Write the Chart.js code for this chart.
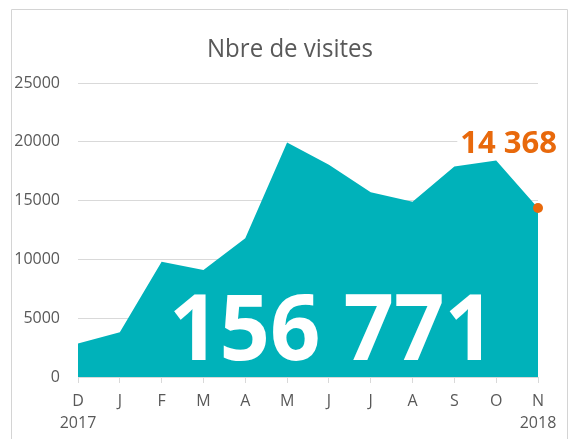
<!DOCTYPE html>
<html>
<head>
<meta charset="utf-8">
<script src="https://cdn.jsdelivr.net/npm/chart.js@4/dist/chart.umd.min.js"></script>
<style>
  html, body { margin: 0; padding: 0; background: #fff; }
  #wrap { position: relative; width: 573px; height: 439px; }
</style>
</head>
<body>
<div id="wrap"><canvas id="chart" width="573" height="439"></canvas></div>
<script>
const months = [['D', '2017'], 'J', 'F', 'M', 'A', 'M', 'J', 'J', 'A', 'S', 'O', ['N', '2018']];
const visits = [2850, 3800, 9800, 9100, 11800, 19950, 18050, 15700, 14900, 17900, 18400, 14368];
const yMax = 25000;
const yStep = 5000;
const chartTitle = 'Nbre de visites';
const totalLabel = '156 771';
const lastLabel = '14 368';

const teal = '#00B2BA';
const orange = '#E8690C';
const grey = '#595959';
const lineGrey = '#d9d9d9';
const font = '"Open Sans", "DejaVu Sans", sans-serif';

// border, title and the two big numbers
const overlay = {
    id: 'overlay',
    beforeDraw(chart) {
        const ctx = chart.ctx;
        ctx.save();
        ctx.strokeStyle = '#d4d4d4';
        ctx.lineWidth = 1;
        ctx.beginPath();
        ctx.moveTo(11.5, 440);
        ctx.lineTo(11.5, 9.5);
        ctx.lineTo(567.5, 9.5);
        ctx.lineTo(567.5, 440);
        ctx.stroke();
        ctx.fillStyle = grey;
        ctx.font = `26px ${font}`;
        ctx.textAlign = 'center';
        ctx.textBaseline = 'alphabetic';
        ctx.fillText(chartTitle, 290, 57, 166);
        ctx.restore();
    },
    afterDatasetsDraw(chart) {
        const ctx = chart.ctx;
        const area = chart.chartArea;
        const pts = chart.getDatasetMeta(0).data;
        const last = pts[pts.length - 1];
        ctx.save();
        ctx.fillStyle = '#fff';
        ctx.font = `bold 91px ${font}`;
        ctx.textAlign = 'center';
        ctx.textBaseline = 'alphabetic';
        ctx.fillText(totalLabel, (area.left + area.right) / 2 + 24, area.bottom - 17, 326);

        ctx.font = `bold 31px ${font}`;
        ctx.textAlign = 'right';
        const w = ctx.measureText(lastLabel).width;
        const tx = last.x + 19, ty = last.y - 55;
        ctx.fillStyle = '#fff';
        ctx.fillRect(tx - w - 3, ty - 26, w + 6, 32);
        ctx.fillStyle = orange;
        ctx.fillText(lastLabel, tx, ty);
        ctx.restore();
    }
};

new Chart(document.getElementById('chart'), {
    type: 'line',
    data: {
        labels: months,
        datasets: [{
            data: visits,
            fill: 'origin',
            backgroundColor: teal,
            borderWidth: 0,
            tension: 0,
            clip: false,
            pointRadius: visits.map((v, i) => i === visits.length - 1 ? 5 : 0),
            pointBackgroundColor: orange,
            pointBorderWidth: 0
        }]
    },
    options: {
        responsive: false,
        animation: false,
        events: [],
        layout: { padding: { top: 83, right: 35, bottom: 0, left: 0 } },
        plugins: { legend: { display: false }, title: { display: false }, tooltip: { enabled: false } },
        scales: {
            x: {
                offset: false,
                grid: { drawOnChartArea: false, drawTicks: true, tickLength: 6, color: lineGrey },
                border: { color: lineGrey },
                ticks: { color: grey, padding: 7, maxRotation: 0, autoSkip: false, font: { family: font, size: 16, lineHeight: 1.4 } },
                afterFit: s => { s.height = 62; }
            },
            y: {
                min: 0,
                max: yMax,
                grid: { color: lineGrey, drawTicks: false },
                border: { display: false },
                ticks: { stepSize: yStep, color: grey, padding: 18, callback: v => String(v), font: { family: font, size: 16 } },
                afterFit: s => { s.width = 78; }
            }
        }
    },
    plugins: [overlay]
});
</script>
</body>
</html>
